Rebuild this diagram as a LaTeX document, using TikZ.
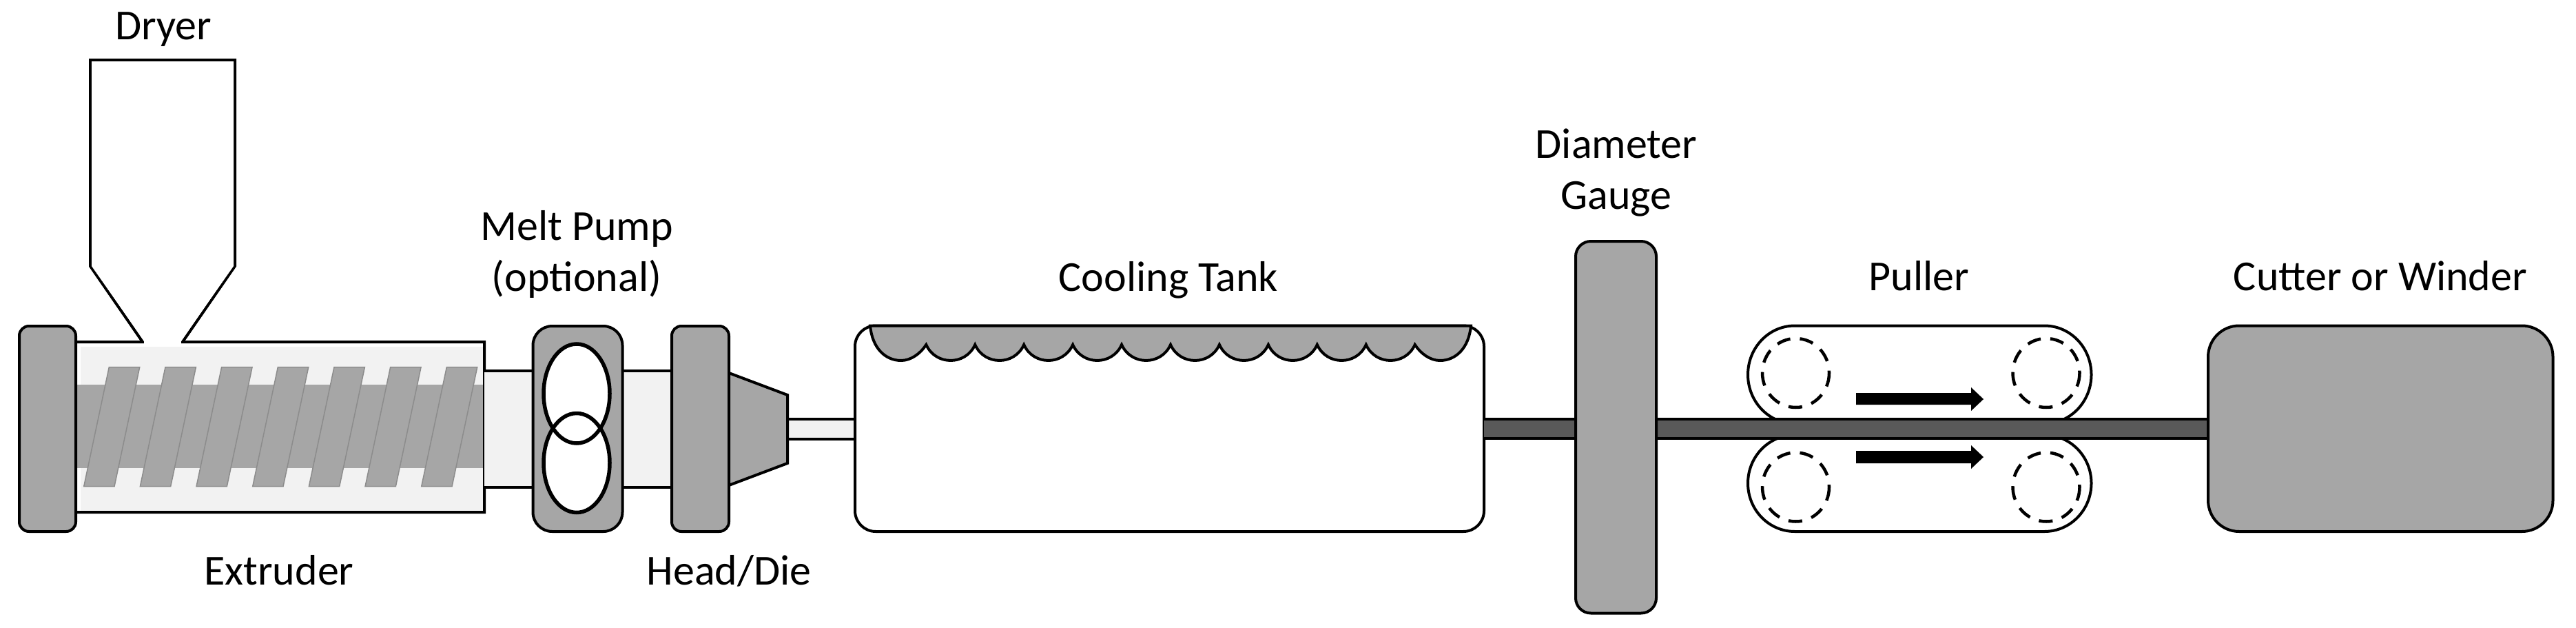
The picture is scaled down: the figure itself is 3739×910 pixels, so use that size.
\documentclass[tikz,border=0pt]{standalone}
\usepackage{fontspec}
\setmainfont{Carlito}
\definecolor{gd}{HTML}{A6A6A6}
\definecolor{gl}{HTML}{F2F2F2}
\definecolor{rodc}{HTML}{595959}
\tikzset{
  outl/.style={draw=black,line width=4pt,line join=miter},
  lab/.style={anchor=base,inner sep=0pt,outer sep=0pt,font=\fontsize{62}{74}\selectfont,text=black},
  flight/.style={fill=gd,draw=gray!90,line width=1.5pt},
  grayblock/.style={outl,fill=gd},
  pipefill/.style={fill=gl,draw=none},
  dashring/.style={draw=black,line width=4.5pt,dash pattern=on 20pt off 14pt},
  lobe/.style={draw=black,line width=5.5pt}
}
\begin{document}
\begin{tikzpicture}[x=1pt,y=-1pt]
\useasboundingbox (0,0) rectangle (3739,910);
% --- extruder barrel
\fill[gl] (117,503) rectangle (703,741);
\fill[gd] (110,558) rectangle (703,679);
\foreach \i in {0,...,6}
  \draw[flight] (158.3+81.67*\i,532.7) -- (202.7+81.67*\i,532.7) -- (166+81.67*\i,705.7) -- (121.7+81.67*\i,705.7) -- cycle;
% --- barrel outline with dryer hopper
\draw[outl] (110,496) -- (207,496) -- (131,386) -- (131,87) -- (341,87) -- (341,386) -- (265,496) -- (703,496) -- (703,743) -- (110,743);
\fill[white] (133,89) -- (339,89) -- (339,386) -- (263,494) -- (209,494) -- (133,386) -- cycle;
\fill[white] (209,494) rectangle (263,500);
% --- pipes between extruder, pump and head
\fill[pipefill] (703,538) rectangle (773,707);
\draw[outl] (703,538) -- (773,538) (703,707) -- (773,707);
\fill[pipefill] (903,538) rectangle (975,707);
\draw[outl] (903,538) -- (975,538) (903,707) -- (975,707);
\fill[pipefill] (1143,608) rectangle (1241,637);
\draw[outl] (1143,608) -- (1241,608) (1143,637) -- (1241,637);
% --- flanges, pump, die
\draw[grayblock,rounded corners=14pt] (28,473) rectangle (110,771);
\draw[grayblock,rounded corners=28pt] (773.5,473) rectangle (903.5,771);
\draw[grayblock,rounded corners=14pt] (975,473) rectangle (1058,771);
\draw[grayblock] (1058,541) -- (1143,573) -- (1143,672) -- (1058,704) -- cycle;
\fill[white] (837,571) ellipse[x radius=48,y radius=72];
\fill[white] (837,671.5) ellipse[x radius=48,y radius=72];
\draw[lobe] (837,571) ellipse[x radius=48,y radius=72];
\draw[lobe] (837,671.5) ellipse[x radius=48,y radius=72];
% --- cooling tank
\draw[outl,fill=white,rounded corners=30pt] (1241,472.5) rectangle (2154,771);
\draw[outl,fill=gd,line join=miter] (1263,472.5) -- (2135,472.5)
  .. controls (2132,505) and (2113,523) .. (2090,523)
  .. controls (2076,523) and (2062,513) .. (2053.7,500)
  \foreach \i [evaluate=\i as \x using 2053.7-70.94*\i] in {0,...,9} {
    .. controls (\x-13.6,530.6) and (\x-57.3,530.6) .. (\x-70.94,500)
  }
  .. controls (1336,513) and (1322,523) .. (1308,523)
  .. controls (1285,523) and (1266,505) .. (1263,472.5) -- cycle;
% --- puller belts
\draw[outl,fill=white] (2605,472.5) -- (2967.5,472.5) arc[start angle=-90,end angle=90,x radius=68,y radius=71] -- (2605,614.5) arc[start angle=90,end angle=270,x radius=68,y radius=71] -- cycle;
\draw[outl,fill=white] (2605,631) -- (2967.5,631) arc[start angle=-90,end angle=90,x radius=68,y radius=70] -- (2605,771) arc[start angle=90,end angle=270,x radius=68,y radius=70] -- cycle;
\foreach \cx in {2606.5,2970} {
  \draw[dashring] (\cx,541) ellipse[x radius=48.5,y radius=50];
  \draw[dashring] (\cx,706.5) ellipse[x radius=48.5,y radius=50];
}
\fill[black] (2694,570) -- (2861,570) -- (2861,562) -- (2879,579) -- (2861,596) -- (2861,587) -- (2694,587) -- cycle;
\fill[black] (2694,654) -- (2861,654) -- (2861,646) -- (2879,663) -- (2861,680) -- (2861,672) -- (2694,672) -- cycle;
% --- cable
\fill[rodc] (2154,608) rectangle (3205,636);
\draw[outl] (2154,608) -- (3205,608) (2154,636) -- (3205,636);
% --- gauge and cutter
\draw[grayblock,rounded corners=22pt] (2287,350) rectangle (2404,889.5);
\draw[grayblock,rounded corners=45pt] (3205,472.5) rectangle (3705.5,771);
% --- labels
\node[lab] (dryer) at (237,57) {Dryer};
\node[lab] (melt) at (837,348) {Melt Pump};
\node[lab] (opt) at (837,422) {(optional)};
\node[lab] (extr) at (405,848) {Extruder};
\node[lab] (head) at (1058,848) {Head/Die};
\node[lab] (cool) at (1696,422) {Cooling Tank};
\node[lab] (diam) at (2346,229) {Diameter};
\node[lab] (gauge) at (2346,303) {Gauge};
\node[lab] (pull) at (2785.5,421) {Puller};
\node[lab] (cut) at (3455,421) {Cutter or Winder};
\end{tikzpicture}
\end{document}
